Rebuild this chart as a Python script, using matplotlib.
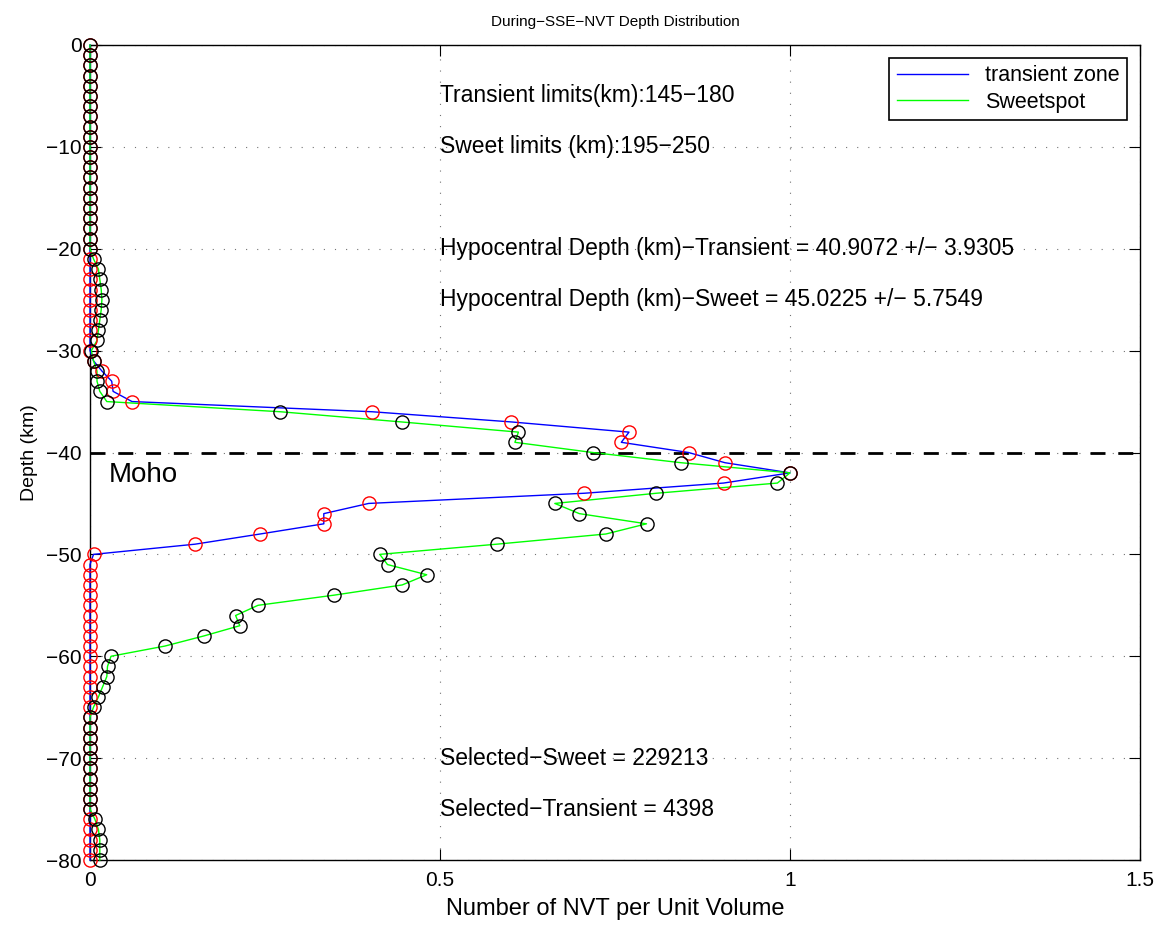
import numpy as np
import matplotlib
matplotlib.use("Agg")
import matplotlib.pyplot as plt

plt.rcParams['font.family'] = ['Liberation Sans', 'DejaVu Sans']

depth = np.arange(0, -81, -1)

sweet = [0]*21 + [
    0.005, 0.012, 0.014, 0.016, 0.017, 0.016, 0.014, 0.012, 0.010, 0.002,   # 21-30
    0.005, 0.010, 0.010, 0.014, 0.024, 0.272, 0.445, 0.612, 0.607, 0.718,   # 31-40
    0.844, 1.000, 0.982, 0.809, 0.664, 0.699, 0.795, 0.737, 0.581, 0.414,   # 41-50
    0.425, 0.481, 0.446, 0.349, 0.240, 0.208, 0.214, 0.163, 0.107, 0.030,   # 51-60
    0.025, 0.024, 0.018, 0.012, 0.005, 0, 0, 0, 0, 0,                       # 61-70
    0, 0, 0, 0, 0, 0.007, 0.012, 0.014, 0.014, 0.014]                       # 71-80

transient = [0]*31 + [
    0.005, 0.017, 0.031, 0.033, 0.060, 0.403, 0.602, 0.770, 0.759, 0.855,   # 31-40
    0.907, 1.000, 0.905, 0.706, 0.398, 0.334, 0.334, 0.243, 0.150, 0.005,   # 41-50
] + [0]*30

texts = [
    (-5, "Transient limits(km):145\u2212180"),
    (-10, "Sweet limits (km):195\u2212250"),
    (-20, "Hypocentral Depth (km)\u2212Transient = 40.9072 +/\u2212 3.9305"),
    (-25, "Hypocentral Depth (km)\u2212Sweet = 45.0225 +/\u2212 5.7549"),
    (-70, "Selected\u2212Sweet = 229213"),
    (-75, "Selected\u2212Transient = 4398"),
]

fig = plt.figure(figsize=(11.64, 9.26), dpi=100)
ax = fig.add_axes([90/1164, 1-860/926, 1050/1164, 815/926])

ax.plot(transient, depth, color=(0, 0, 1), lw=1.0, label='transient zone', zorder=3, clip_on=False)
ax.plot(sweet, depth, color=(0, 1, 0), lw=1.0, label='Sweetspot', zorder=3, clip_on=False)
ax.plot(transient, depth, 'o', mfc='none', mec='red', ms=9.5, mew=1.0, zorder=4, clip_on=False)
ax.plot(sweet, depth, 'o', mfc='none', mec='black', ms=9.5, mew=1.0, zorder=5, clip_on=False)

ax.axhline(-40, color='black', ls='--', lw=2.0, zorder=2, dashes=(5.4, 4.6))
ax.text(0.027, -42.2, "Moho", fontsize=20, va='center', ha='left')

for y, s in texts:
    ax.text(0.5, y, s, fontsize=16.5, va='center', ha='left')

ax.set_xlim(0, 1.5)
ax.set_ylim(-80, 0)
ax.set_xticks([0, 0.5, 1, 1.5])
ax.set_xticklabels(['0', '0.5', '1', '1.5'])
ax.set_yticks(np.arange(-80, 1, 10))
ax.grid(True, ls=(0, (1, 9)), color='0.45', lw=0.8)
ax.tick_params(direction='in', top=True, right=True, labelsize=15, length=8)
ax.tick_params(axis='x', pad=8)
ax.tick_params(axis='y', pad=6)
for sp in ax.spines.values():
    sp.set_linewidth(1.0)

ax.set_xlabel("Number of NVT per Unit Volume", fontsize=17, labelpad=6)
ax.set_ylabel("Depth (km)", fontsize=14, labelpad=6)
ax.set_title("During\u2212SSE\u2212NVT Depth Distribution", fontsize=11, pad=14)

leg = ax.legend(loc='upper right', fontsize=15.5, frameon=True, fancybox=False,
                edgecolor='black', framealpha=1, handlelength=3.3,
                borderaxespad=0.6, borderpad=0.35, labelspacing=0.25)
leg.get_frame().set_linewidth(1.2)

fig.savefig("out.png", dpi=100)
